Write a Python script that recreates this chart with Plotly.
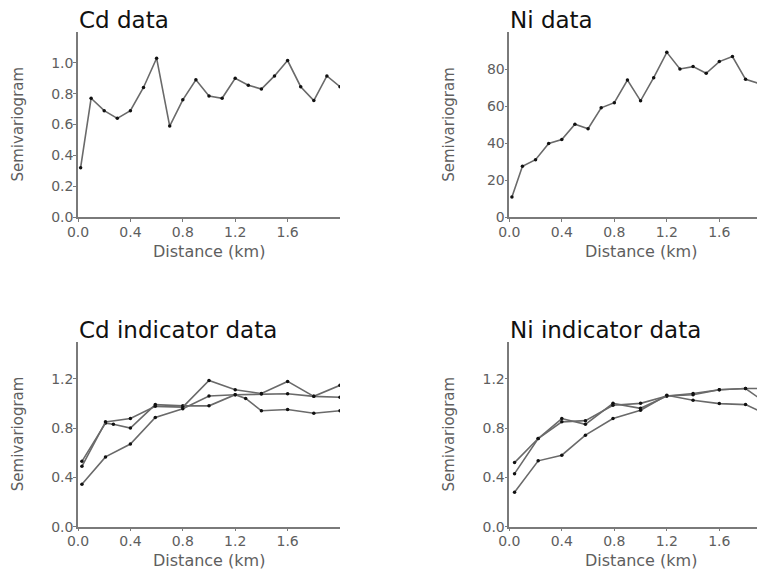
import plotly.graph_objects as go

# ---------------- data ----------------
cd_x = [0.02, 0.1, 0.2, 0.3, 0.4, 0.5, 0.6, 0.7, 0.8, 0.9, 1.0, 1.1, 1.2, 1.3, 1.4, 1.5, 1.6, 1.7, 1.8, 1.9, 2.0]
cd_y = [0.32, 0.77, 0.69, 0.64, 0.69, 0.84, 1.03, 0.59, 0.76, 0.89, 0.785, 0.77, 0.90, 0.855, 0.83, 0.915, 1.015, 0.845, 0.755, 0.915, 0.845]

ni_x = [0.02, 0.1, 0.2, 0.3, 0.4, 0.5, 0.6, 0.7, 0.8, 0.9, 1.0, 1.1, 1.2, 1.3, 1.4, 1.5, 1.6, 1.7, 1.8, 1.9, 2.0]
ni_y = [10.8, 27.4, 31.0, 39.7, 41.9, 50.2, 47.7, 59.0, 61.8, 74.0, 62.8, 75.3, 89.0, 80.0, 81.3, 77.7, 84.0, 86.7, 74.4, 72.2, 78.0]

cdi_x_a = [0.03, 0.21, 0.27, 0.4, 0.59, 0.8, 1.0, 1.2, 1.28, 1.4, 1.6, 1.8, 2.0]
cdi_y_a = [0.53, 0.84, 0.83, 0.80, 0.99, 0.98, 0.98, 1.07, 1.04, 0.94, 0.95, 0.92, 0.94]
cdi_x_bc = [0.03, 0.21, 0.4, 0.59, 0.8, 1.0, 1.2, 1.4, 1.6, 1.8, 2.0]
cdi_y_b = [0.49, 0.85, 0.877, 0.976, 0.97, 1.186, 1.11, 1.08, 1.178, 1.057, 1.146]
cdi_y_c = [0.345, 0.566, 0.67, 0.885, 0.957, 1.06, 1.07, 1.075, 1.078, 1.057, 1.05]

nii_x = [0.04, 0.22, 0.4, 0.58, 0.79, 1.0, 1.2, 1.4, 1.6, 1.8, 2.0]
nii_y_a = [0.52, 0.715, 0.877, 0.83, 1.0, 0.96, 1.06, 1.07, 1.11, 1.12, 0.97]
nii_y_b = [0.43, 0.715, 0.85, 0.86, 0.985, 1.0, 1.06, 1.08, 1.11, 1.12, 1.12]
nii_y_c = [0.28, 0.534, 0.58, 0.742, 0.877, 0.944, 1.066, 1.025, 0.998, 0.99, 0.89]

x_ticks = [0.0, 0.4, 0.8, 1.2, 1.6]
titles = ["Cd data", "Ni data", "Cd indicator data", "Ni indicator data"]
x_title = "Distance (km)"
y_title = "Semivariogram"

# ---------------- layout helpers ----------------
OFF = 8                      # page body margin in the browser
W, H = 765 - OFF, 571 - OFF
FONT = "DejaVu Sans"
LINE_COL = "#6a6a6a"
AXIS_COL = "#7a7a7a"
TICK_COL = "#5e5e5e"

def px_x(p):
    return (p - OFF) / W

def px_y(p):
    return 1 - (p - OFF) / H

panels = [
    # (x0 px, x1 px, ytop px, ybottom px, xrange, yrange, yticks, ytickformat)
    (78, 340, 32, 217, [0, 2.0], [0, 1.2], [0, 0.2, 0.4, 0.6, 0.8, 1.0], ".1f"),
    (509.3, 765, 32, 217, [0, 1.948], [0, 100], [0, 20, 40, 60, 80], "d"),
    (78, 340, 341.7, 526.7, [0, 2.0], [0, 1.5], [0, 0.4, 0.8, 1.2], ".1f"),
    (509.3, 765, 341.7, 526.7, [0, 1.948], [0, 1.5], [0, 0.4, 0.8, 1.2], ".1f"),
]

fig = go.Figure()

series = [
    (1, [(cd_x, cd_y)]),
    (2, [(ni_x, ni_y)]),
    (3, [(cdi_x_a, cdi_y_a), (cdi_x_bc, cdi_y_b), (cdi_x_bc, cdi_y_c)]),
    (4, [(nii_x, nii_y_a), (nii_x, nii_y_b), (nii_x, nii_y_c)]),
]

for idx, lst in series:
    for xs, ys in lst:
        fig.add_trace(go.Scatter(
            x=xs, y=ys, mode="lines+markers",
            line=dict(color=LINE_COL, width=1.6),
            marker=dict(color="#111111", size=3.5),
            xaxis="x" if idx == 1 else f"x{idx}",
            yaxis="y" if idx == 1 else f"y{idx}",
            showlegend=False, hoverinfo="skip",
        ))

layout = dict(
    width=W, height=H,
    margin=dict(l=0, r=0, t=0, b=0),
    paper_bgcolor="white", plot_bgcolor="white",
    font=dict(family=FONT, color=TICK_COL, size=14),
    showlegend=False,
)

annotations = []
for i, (x0, x1, yt, yb, xr, yr, yt_vals, yfmt) in enumerate(panels, start=1):
    sx = "" if i == 1 else str(i)
    layout[f"xaxis{sx}"] = dict(
        domain=[max(0, px_x(x0)), min(1, px_x(x1))], range=xr, anchor=f"y{sx}",
        showgrid=False, zeroline=False, showline=True, linecolor=AXIS_COL, linewidth=1.5,
        ticks="outside", ticklen=3, tickcolor=AXIS_COL, tickwidth=1.2,
        tickvals=x_ticks, tickformat=".1f", ticklabelstandoff=-2,
        tickfont=dict(family=FONT, size=14, color=TICK_COL),
        automargin=False, fixedrange=True,
    )
    layout[f"yaxis{sx}"] = dict(
        domain=[px_y(yb), px_y(yt)], range=yr, anchor=f"x{sx}",
        showgrid=False, zeroline=False, showline=True, linecolor=AXIS_COL, linewidth=1.5,
        ticks="outside", ticklen=3, tickcolor=AXIS_COL, tickwidth=1.2,
        tickvals=yt_vals, tickformat=yfmt, ticklabelstandoff=-3,
        tickfont=dict(family=FONT, size=14, color=TICK_COL),
        automargin=False, fixedrange=True,
    )
    # panel title
    annotations.append(dict(
        text=titles[i - 1], xref="paper", yref="paper",
        x=px_x(x0 - 1), y=px_y(yt + 3), xanchor="left", yanchor="bottom",
        showarrow=False, font=dict(family=FONT, size=23, color="#111111"),
    ))
    # x axis title centered on 1.0 km
    annotations.append(dict(
        text=x_title, xref=f"x{sx}", yref="paper",
        x=1.0, y=px_y(yb + 34), xanchor="center", yanchor="middle",
        showarrow=False, font=dict(family=FONT, size=16, color=TICK_COL),
    ))
    # y axis title
    annotations.append(dict(
        text=y_title, xref="paper", yref="paper", textangle=-90,
        x=px_x(x0 - 60), y=px_y((yt + yb) / 2), xanchor="center", yanchor="middle",
        showarrow=False, font=dict(family=FONT, size=15, color=TICK_COL),
    ))

layout["annotations"] = annotations
fig.update_layout(**layout)
fig.write_html("out.html")
